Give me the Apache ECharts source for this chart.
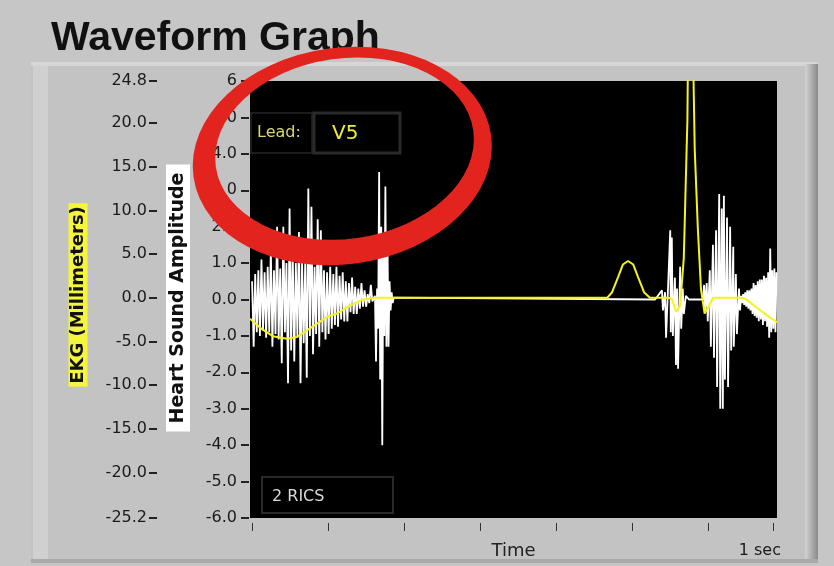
<!DOCTYPE html>
<html>
<head>
<meta charset="utf-8">
<title>Waveform Graph</title>
<script src="https://cdn.jsdelivr.net/npm/echarts@6.0.0/dist/echarts.min.js"></script>
<style>
  html, body { margin: 0; padding: 0; background: #c6c6c6; }
  #main { width: 834px; height: 566px; }
</style>
</head>
<body>
<div id="main"></div>
<script>
// EKG trace, time in ms, value in mm
const ekgTime = [-4, 0, 19, 40, 67, 86, 111, 144, 163, 188,
  211, 232, 682, 691, 703, 712, 722, 732, 741, 753,
  764, 799, 806, 814, 822, 829, 832, 836, 837, 847,
  850, 856, 862, 869, 877, 885, 937, 947, 960, 975,
  991, 1008];
const ekgMm = [-2.4, -2.6, -3.6, -4.4, -4.7, -4.5, -3.5, -2.2, -1.8, -0.9,
  -0.25, 0, 0, 0.6, 2.4, 3.8, 4.2, 3.8, 2.4, 0.6,
  0, 0, -0.1, -1.6, -0.9, 4.5, 11.4, 20.5, 27.4, 27.4,
  17, 7.9, 1.0, -1.8, -1.0, 0, 0, -0.1, -0.7, -1.4,
  -2.1, -2.8];

// heart sound amplitude, first sound (dense part), sampled every 3 ms
const s1Start = 0, s1Step = 3;
const s1Amp = [0.5, -1.3, 0.7, -0.9, 0.8, -1.0, 1.1, -0.85, 0.75, -1.05,
  0.9, -0.9, 1.4, -1.3, 0.8, -0.95, 2.0, -1.1, 0.85, -1.75,
  2.0, -0.9, 1.0, -2.3, 2.5, -1.4, 1.4, -1.7, 1.0, -1.0,
  1.85, -2.3, 1.1, -1.2, 1.0, -2.15, 3.05, -1.0, 2.55, -1.5,
  0.9, -0.95, 2.2, -1.3, 1.9, -0.9, 0.8, -1.1, 0.75, -0.95,
  0.9, -0.8, 0.7, -0.7, 0.9, -0.75, 0.65, -0.55, 0.75, -0.6,
  0.5, -0.6, 0.45, -0.35, 0.6, -0.4, 0.35, -0.4, 0.3, -0.25,
  0.45, -0.2, 0.25, -0.2, 0.15, -0.1, 0.4, -0.05];
// first sound, tail spikes, every 2 ms
const s1bStart = 236, s1bStep = 2;
const s1bAmp = [0.1, -1.7, 0.3, -0.8, 3.5, -2.2, 2.0, -4.0, 1.5, -1.0,
  3.1, -1.3, 1.6, -1.3, 0.5, -0.3, 0.2, -0.1, 0.05, 0];
// second sound
const s2Time = [774, 787, 789, 793, 795, 799, 803, 804, 806, 808,
  812, 814, 816, 818, 822, 824, 827, 829, 833, 839,
  866, 868, 870, 873, 875, 879, 881, 885, 887, 891,
  893, 897, 899, 902, 904, 906, 908, 912, 914, 918,
  920, 924, 925, 929, 931, 935, 937];
const s2Amp = [0, 0.25, -0.3, 0.2, -1.05, 0.4, 1.9, -0.9, 1.7, -1.0,
  0.6, -1.8, 0.3, -1.9, 0.9, -0.8, 0.3, -0.4, 0.1, 0,
  0, 0.4, -0.3, 0.45, -0.6, 0.8, -1.3, 1.5, -1.6, 1.9,
  -2.4, 2.9, -3.0, 2.5, -3.0, 2.85, -2.2, 2.25, -2.4, 2.0,
  -1.4, 1.45, -1.3, 0.7, -0.95, 0.3, -0.3];
// start of next beat, every 2 ms
const s3Start = 939, s3Step = 2;
const s3Amp = [0.1, -0.1, 0.15, -0.15, 0.2, -0.2, 0.25, -0.25, 0.25, -0.3,
  0.3, -0.4, 0.45, -0.45, 0.4, -0.5, 0.5, -0.6, 0.55, -0.55,
  0.55, -0.7, 0.65, -0.6, 0.6, -0.75, 0.75, -1.05, 1.4, -0.9,
  0.8, -0.8, 0.85, -0.9, 0.75];

const xTicks = [0, 146, 292, 438, 584, 730, 876, 1000];
const ekgTicks = [-25.2, -20, -15, -10, -5, 0, 5, 10, 15, 20, 24.8];

function burst(start, step, amps) {
  return amps.map((v, i) => [start + i * step, v]);
}

const heartData = burst(s1Start, s1Step, s1Amp)
  .concat(burst(s1bStart, s1bStep, s1bAmp))
  .concat(s2Time.map((t, i) => [t, s2Amp[i]]))
  .concat(burst(s3Start, s3Step, s3Amp));
const ekgData = ekgTime.map((t, i) => [t, ekgMm[i]]);

const font = 'DejaVu Sans';
const labelStyle = { fontFamily: font, fontSize: 16, color: '#1a1a1a' };

// red hand drawn ring: strokes from inner to outer edge (cx, cy, rx, ry)
const ringStrokes = [
  [345.0, 148.75, 133.0, 93.25],
  [344.2, 150.5, 136.6, 96.25],
  [343.4, 152.25, 140.1, 99.25],
  [342.6, 154.0, 143.7, 102.25],
  [341.75, 155.75, 147.25, 105.25]
];

const chart = echarts.init(document.getElementById('main'));

const option = {
  backgroundColor: '#c6c6c6',
  animation: false,
  grid: {
    show: true, backgroundColor: '#000', borderWidth: 0,
    left: 250, right: 57, top: 81, bottom: 48,
    containLabel: false, outerBoundsMode: 'none'
  },
  xAxis: {
    type: 'value', min: -4, max: 1008, offset: 5,
    name: 'Time', nameLocation: 'middle', nameGap: 19, nameMoveOverlap: false,
    nameTextStyle: { fontFamily: font, fontSize: 18, color: '#222' },
    axisLine: { show: false, onZero: false },
    axisTick: { show: true, customValues: xTicks, length: 8, lineStyle: { color: '#333', width: 1 } },
    axisLabel: Object.assign({}, labelStyle, {
      customValues: [1000], formatter: () => '1 sec', margin: 20, padding: [0, 26, 0, 0]
    }),
    splitLine: { show: false }
  },
  yAxis: [
    {
      // EKG (mm), outer axis
      type: 'value', position: 'left', offset: 93, min: -25.2, max: 24.8,
      axisLine: { show: false, onZero: false },
      axisTick: { show: true, customValues: ekgTicks, length: 8, lineStyle: { color: '#222', width: 2 } },
      axisLabel: Object.assign({}, labelStyle, {
        customValues: ekgTicks, formatter: v => v.toFixed(1), margin: 10
      }),
      splitLine: { show: false }
    },
    {
      // heart sound amplitude, inner axis
      type: 'value', position: 'left', offset: 1, min: -6, max: 6, interval: 1,
      axisLine: { show: false, onZero: false },
      axisTick: { show: true, length: 8, lineStyle: { color: '#222', width: 2 } },
      axisLabel: Object.assign({}, labelStyle, {
        formatter: v => (v === 6 ? '6' : v.toFixed(1)), margin: 12
      }),
      splitLine: { show: false }
    }
  ],
  series: [
    {
      name: 'Heart Sound', type: 'line', yAxisIndex: 1, data: heartData,
      showSymbol: false, z: 3,
      lineStyle: { color: '#ffffff', width: 1.8 }
    },
    {
      name: 'EKG', type: 'line', yAxisIndex: 0, data: ekgData,
      showSymbol: false, z: 4,
      lineStyle: { color: '#f4f41c', width: 2 }
    }
  ],
  graphic: [
    // panel
    { type: 'rect', z: -10, shape: { x: 31, y: 62, width: 787, height: 501 }, style: { fill: '#c3c3c3' } },
    { type: 'rect', z: -9, shape: { x: 31, y: 62, width: 787, height: 4 }, style: { fill: '#d6d6d6' } },
    { type: 'rect', z: -9, shape: { x: 33, y: 66, width: 15, height: 493 }, style: { fill: '#d0d0d0' } },
    {
      type: 'rect', z: -9, shape: { x: 805, y: 64, width: 13, height: 499 },
      style: {
        fill: new echarts.graphic.LinearGradient(0, 0, 1, 0, [
          { offset: 0, color: '#d4d4d4' },
          { offset: 0.3, color: '#bdbdbd' },
          { offset: 1, color: '#8a8a8a' }
        ])
      }
    },
    { type: 'rect', z: -9, shape: { x: 31, y: 559, width: 787, height: 4 }, style: { fill: '#a9a9a9' } },
    // title
    {
      type: 'text', x: 51, y: 18, z: 10,
      style: { text: 'Waveform Graph', fontFamily: 'Liberation Sans', fontWeight: 'bold', fontSize: 41, fill: '#111', verticalAlign: 'top' }
    },
    // axis titles
    {
      type: 'text', x: 78, y: 295, rotation: Math.PI / 2, z: 10,
      style: {
        text: 'EKG (Millimeters)', fontFamily: font, fontWeight: 'bold', fontSize: 18, fill: '#111',
        align: 'center', verticalAlign: 'middle', lineHeight: 17,
        backgroundColor: '#f5f53c', padding: [1, 3]
      }
    },
    {
      type: 'text', x: 178, y: 298, rotation: Math.PI / 2, z: 10,
      style: {
        text: 'Heart Sound Amplitude', fontFamily: font, fontWeight: 'bold', fontSize: 19, fill: '#111',
        align: 'center', verticalAlign: 'middle', lineHeight: 22,
        backgroundColor: '#ffffff', padding: [1, 8]
      }
    },
    // lead control
    { type: 'rect', z: 5, shape: { x: 251, y: 113, width: 61, height: 40 }, style: { fill: 'none', stroke: '#1c1c1c', lineWidth: 2 } },
    { type: 'rect', z: 5, shape: { x: 314, y: 113, width: 86, height: 40 }, style: { fill: 'none', stroke: '#2a2a2a', lineWidth: 3 } },
    {
      type: 'text', x: 257, y: 133, z: 6,
      style: { text: 'Lead:', fontFamily: font, fontSize: 16, fill: '#d8d86a', verticalAlign: 'middle' }
    },
    {
      type: 'text', x: 332, y: 134, z: 6,
      style: { text: 'V5', fontFamily: font, fontSize: 20, fill: '#ecec3a', verticalAlign: 'middle' }
    },
    // plot legend box
    { type: 'rect', z: 5, shape: { x: 262, y: 477, width: 131, height: 36 }, style: { fill: 'none', stroke: '#2a2a2a', lineWidth: 2 } },
    {
      type: 'text', x: 272, y: 497, z: 6,
      style: { text: '2 RICS', fontFamily: font, fontSize: 16, fill: '#dadada', verticalAlign: 'middle' }
    },
    // red ring on top
    {
      type: 'group', x: 344, y: 152, rotation: 0.14,
      children: ringStrokes.map(e => ({
        type: 'ellipse', z: 50,
        shape: { cx: e[0] - 344, cy: e[1] - 152, rx: e[2], ry: e[3] },
        style: { fill: 'none', stroke: '#e3241e', lineWidth: 6 }
      }))
    }
  ]
};

chart.setOption(option);
</script>
</body>
</html>
